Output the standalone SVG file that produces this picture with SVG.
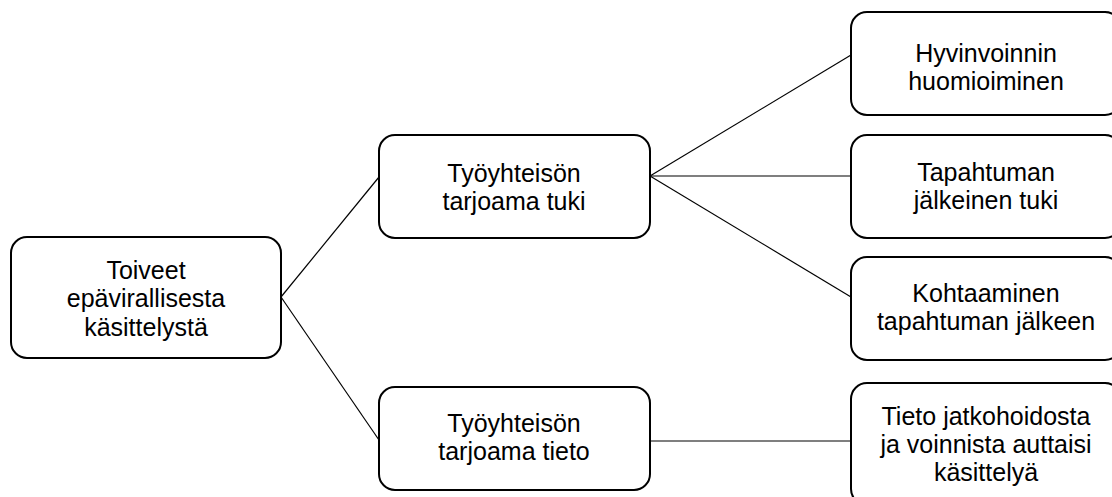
<svg xmlns="http://www.w3.org/2000/svg" width="1112" height="497" viewBox="0 0 1112 497">
  <style>
    .box { fill: #ffffff; stroke: #000000; stroke-width: 2; }
    .link { stroke: #000000; stroke-width: 1.2; fill: none; }
    .label { font-family: "Liberation Sans", Arial, sans-serif; font-size: 25px; fill: #000000; text-anchor: middle; }
  </style>
  <rect width="1112" height="497" fill="#ffffff"/>

  <!-- connectors -->
  <g id="connectors">
    <line class="link" x1="281" y1="297" x2="379" y2="177"/>
    <line class="link" x1="281" y1="297" x2="379" y2="440"/>
    <line class="link" x1="650" y1="176" x2="851" y2="55"/>
    <line class="link" x1="650" y1="176" x2="851" y2="176"/>
    <line class="link" x1="650" y1="176" x2="851" y2="297"/>
    <line class="link" x1="650" y1="441" x2="851" y2="441"/>
  </g>

  <g id="node-root">
    <rect class="box" x="11" y="237" width="270" height="121" rx="16"/>
    <text class="label" x="146" y="278.5">Toiveet</text>
    <text class="label" x="146" y="307">epävirallisesta</text>
    <text class="label" x="146" y="335.5">käsittelystä</text>
  </g>

  <g id="node-tuki">
    <rect class="box" x="379" y="135" width="271" height="103" rx="16"/>
    <text class="label" x="514" y="181.5">Työyhteisön</text>
    <text class="label" x="514" y="209.5">tarjoama tuki</text>
  </g>

  <g id="node-tieto">
    <rect class="box" x="379" y="387" width="271" height="103" rx="16"/>
    <text class="label" x="514" y="432">Työyhteisön</text>
    <text class="label" x="514" y="460">tarjoama tieto</text>
  </g>

  <g id="node-hyvinvointi">
    <rect class="box" x="851" y="12" width="270" height="103" rx="16"/>
    <text class="label" x="986" y="61.5">Hyvinvoinnin</text>
    <text class="label" x="986" y="89.5">huomioiminen</text>
  </g>

  <g id="node-jalkeinen-tuki">
    <rect class="box" x="851" y="135" width="270" height="103" rx="16"/>
    <text class="label" x="986" y="181">Tapahtuman</text>
    <text class="label" x="986" y="209">jälkeinen tuki</text>
  </g>

  <g id="node-kohtaaminen">
    <rect class="box" x="851" y="257" width="270" height="103" rx="16"/>
    <text class="label" x="986" y="302">Kohtaaminen</text>
    <text class="label" x="986" y="330">tapahtuman jälkeen</text>
  </g>

  <g id="node-jatkohoito">
    <rect class="box" x="851" y="383" width="270" height="122" rx="16"/>
    <text class="label" x="986" y="425">Tieto jatkohoidosta</text>
    <text class="label" x="986" y="453">ja voinnista auttaisi</text>
    <text class="label" x="986" y="481">käsittelyä</text>
  </g>
</svg>
